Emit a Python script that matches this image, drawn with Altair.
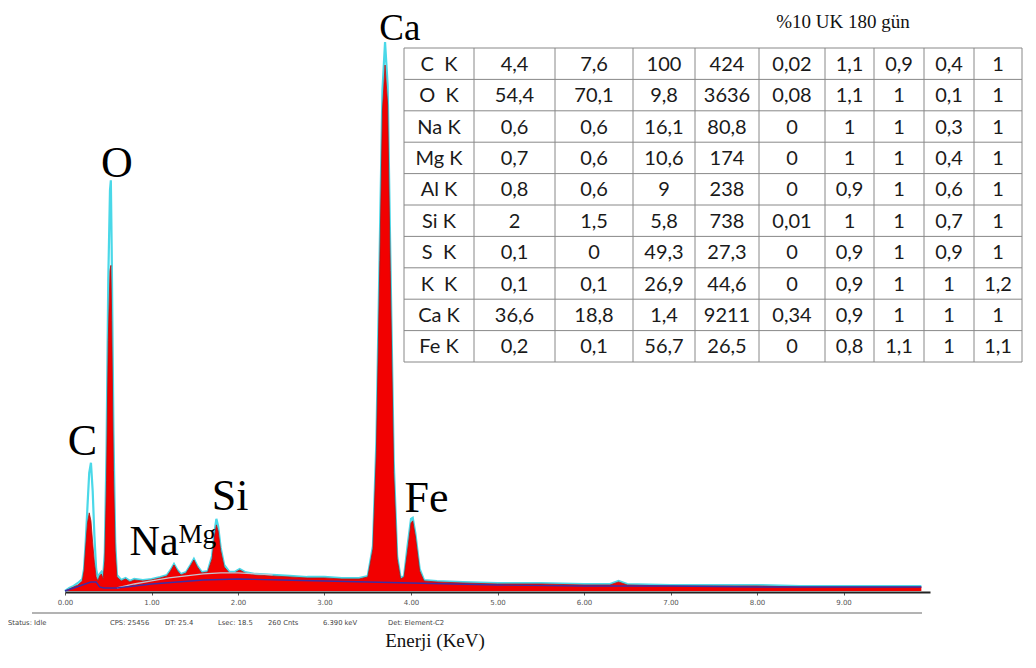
import altair as alt
import pandas as pd

# ---------------- spectrum data ----------------
energy_kev = [0.00, 0.05, 0.10, 0.15, 0.20, 0.22, 0.24, 0.26, 0.28, 0.30, 0.32, 0.34, 0.36, 0.38,
              0.40, 0.42, 0.44, 0.46, 0.48, 0.50, 0.52, 0.53, 0.54, 0.56, 0.58, 0.60, 0.65, 0.70,
              0.75, 0.80, 0.90, 1.00, 1.10, 1.18, 1.22, 1.26, 1.30, 1.34, 1.40, 1.45, 1.49, 1.53,
              1.58, 1.65, 1.70, 1.73, 1.75, 1.77, 1.80, 1.84, 1.90, 1.96, 2.02, 2.08, 2.20, 2.40,
              2.60, 2.80, 3.00, 3.20, 3.40, 3.50, 3.56, 3.60, 3.64, 3.67, 3.70, 3.73, 3.76, 3.80,
              3.84, 3.88, 3.92, 3.96, 4.00, 4.02, 4.05, 4.10, 4.15, 4.30, 4.60, 5.00, 5.50, 6.00,
              6.30, 6.40, 6.50, 7.00, 7.50, 8.00, 8.50, 9.00, 9.50, 9.90]
counts_red = [0, 2, 4, 6, 10, 20, 45, 68, 78, 70, 48, 28, 14, 10,
              15, 17, 12, 30, 110, 250, 320, 325, 270, 120, 40, 14, 10, 12,
              9, 11, 10, 11, 13, 15, 20, 26, 20, 16, 18, 25, 31, 24,
              18, 19, 32, 55, 66, 60, 40, 24, 18, 18, 21, 18, 16, 15,
              14, 13, 13, 12, 12, 14, 42, 140, 330, 480, 525, 485, 320, 118,
              32, 12, 14, 40, 68, 70, 55, 20, 10, 9, 8, 7, 7, 6,
              6, 9, 6, 5, 5, 5, 4, 4, 4, 4]
counts_cyan = [0, 3, 5, 8, 12, 22, 50, 85, 118, 128, 100, 55, 22, 13,
               17, 19, 14, 38, 140, 310, 400, 410, 340, 160, 50, 16, 11, 13,
               10, 12, 11, 12, 14, 16, 21, 27, 21, 17, 19, 26, 32, 25,
               19, 20, 35, 60, 72, 65, 43, 26, 19, 19, 22, 19, 17, 16,
               15, 14, 14, 13, 13, 15, 45, 150, 350, 500, 548, 505, 340, 130,
               35, 13, 15, 45, 72, 73, 58, 22, 11, 10, 9, 8, 8, 7,
               7, 10, 7, 6, 6, 6, 5, 5, 5, 5]

bg_energy = [0.00, 0.10, 0.20, 0.30, 0.36, 0.40, 0.45, 0.60, 0.80, 1.00, 1.30, 1.60, 2.00,
             2.50, 3.00, 3.50, 4.00, 4.50, 5.00, 6.00, 7.00, 8.00, 9.00, 9.90]
bg_counts = [0, 3, 6, 9, 9, 4, 3, 3, 5, 7, 9, 11, 12, 11, 10, 9, 8, 7, 6, 5, 5, 4, 4, 4]

fit_energy = [0.60, 0.80, 1.00, 1.20, 1.40, 1.60, 1.80, 2.00, 2.20, 2.40]
fit_counts = [3, 7, 10, 13, 15, 17, 18, 18, 17, 16]

peak_labels = ["C", "O", "Na", "Mg", "Si", "Ca", "Fe"]
label_energy = [0.20, 0.60, 1.03, 1.53, 1.91, 3.87, 4.18]
label_counts = [136, 413, 36, 48, 81, 550, 79]
label_sizes = [44, 44, 42, 27, 44, 37, 44]

tick_values = [0, 1, 2, 3, 4, 5, 6, 7, 8, 9]

status_items = ["Status: Idle", "CPS: 25456", "DT: 25.4", "Lsec: 18.5", "260 Cnts",
                "6.390 keV", "Det: Element-C2"]

title_text = "%10 UK 180 gün"
x_title = "Enerji (KeV)"

# ---------------- quantification table ----------------
elements = ["C\u00a0\u00a0K", "O\u00a0\u00a0K", "Na K", "Mg K", "Al K", "Si K", "S\u00a0\u00a0K",
            "K\u00a0\u00a0K", "Ca K", "Fe K"]
wt_pct = [4.4, 54.4, 0.6, 0.7, 0.8, 2, 0.1, 0.1, 36.6, 0.2]
at_pct = [7.6, 70.1, 0.6, 0.6, 0.6, 1.5, 0, 0.1, 18.8, 0.1]
error_pct = [100, 9.8, 16.1, 10.6, 9, 5.8, 49.3, 26.9, 1.4, 56.7]
net_int = [424, 3636, 80.8, 174, 238, 738, 27.3, 44.6, 9211, 26.5]
k_ratio = [0.02, 0.08, 0, 0, 0, 0.01, 0, 0, 0.34, 0]
z_corr = [1.1, 1.1, 1, 1, 0.9, 1, 0.9, 0.9, 0.9, 0.8]
r_corr = [0.9, 1, 1, 1, 1, 1, 1, 1, 1, 1.1]
a_corr = [0.4, 0.1, 0.3, 0.4, 0.6, 0.7, 0.9, 1, 1, 1]
f_corr = [1, 1, 1, 1, 1, 1, 1, 1.2, 1, 1.1]

# ---------------- layout (styles, not data) ----------------
W, H = 1018, 650
X_RANGE = [57, 922]
Y_RANGE = [583, 34]
AXIS_Y = 584
col_edges = [396, 466, 547, 625, 687, 751, 817, 866, 916, 966, 1014]
row_top, row_h, n_rows = 40, 31.4, 10
status_x = [0, 102, 157, 210, 260, 315, 380]
status_y = 615

SERIF = "Liberation Serif"


def fmt(v):
    return f"{v:g}".replace(".", ",")


spec = pd.DataFrame({"E": energy_kev, "red": counts_red, "cyan": counts_cyan})
bg = pd.DataFrame({"E": bg_energy, "c": bg_counts})
fit = pd.DataFrame({"E": fit_energy, "c": fit_counts})
labels = pd.DataFrame({"t": peak_labels, "E": label_energy, "c": label_counts, "fs": label_sizes})

xs = alt.Scale(domain=[0, 10], range=X_RANGE, nice=False, zero=False)
ys = alt.Scale(domain=[0, 548], range=Y_RANGE, nice=False, zero=False)

cyan_line = alt.Chart(spec).mark_line(color="#4ad8e8", strokeWidth=2.2).encode(
    x=alt.X("E:Q", scale=xs, axis=None),
    y=alt.Y("cyan:Q", scale=ys, axis=None),
)

red_area = alt.Chart(spec).mark_area(
    color="#f20000", opacity=1,
    line=alt.OverlayMarkDef(color="#a81414", strokeWidth=0.8),
).encode(
    x=alt.X("E:Q", scale=xs, axis=alt.Axis(
        values=tick_values, format=".2f", title=None, grid=False,
        offset=AXIS_Y - H, domainColor="#222222", domainWidth=2,
        tickColor="#555555", tickSize=3, tickWidth=1,
        labelColor="#555555", labelFontSize=7, labelFont="DejaVu Sans",
        labelPadding=3, labelFlush=False)),
    y=alt.Y("red:Q", scale=ys, axis=None),
)

fit_line = alt.Chart(fit).mark_line(color="#c4c4d0", strokeWidth=1.3).encode(
    x=alt.X("E:Q", scale=xs, axis=None),
    y=alt.Y("c:Q", scale=ys, axis=None),
)

bg_line = alt.Chart(bg).mark_line(color="#3b2ea6", strokeWidth=1.4).encode(
    x=alt.X("E:Q", scale=xs, axis=None),
    y=alt.Y("c:Q", scale=ys, axis=None),
)

peak_text = alt.Chart(labels).mark_text(
    font=SERIF, color="black", align="center", baseline="alphabetic"
).encode(
    x=alt.X("E:Q", scale=xs, axis=None),
    y=alt.Y("c:Q", scale=ys, axis=None),
    text="t:N",
    size=alt.Size("fs:Q", scale=None, legend=None),
)

# table cells
cells = []
columns = [elements, [fmt(v) for v in wt_pct], [fmt(v) for v in at_pct],
           [fmt(v) for v in error_pct], [fmt(v) for v in net_int], [fmt(v) for v in k_ratio],
           [fmt(v) for v in z_corr], [fmt(v) for v in r_corr], [fmt(v) for v in a_corr],
           [fmt(v) for v in f_corr]]
for ci, col in enumerate(columns):
    for ri, txt in enumerate(col):
        cells.append({"t": txt,
                      "px": (col_edges[ci] + col_edges[ci + 1]) / 2,
                      "py": row_top + (ri + 0.5) * row_h + 1})
cells = pd.DataFrame(cells)

table_text = alt.Chart(cells).mark_text(
    font="Lato", fontSize=20, color="#1a1a1a", align="center", baseline="middle"
).encode(
    x=alt.X("px:Q", scale=None, axis=None),
    y=alt.Y("py:Q", scale=None, axis=None),
    text="t:N",
)

grid = []
table_bottom = row_top + n_rows * row_h
for i in range(n_rows + 1):
    y = row_top + i * row_h
    grid.append({"x1": col_edges[0], "x2": col_edges[-1], "y1": y, "y2": y})
for x in col_edges:
    grid.append({"x1": x, "x2": x, "y1": row_top, "y2": table_bottom})
grid = pd.DataFrame(grid)

table_grid = alt.Chart(grid).mark_rule(color="#888888", strokeWidth=1).encode(
    x=alt.X("x1:Q", scale=None, axis=None),
    x2="x2:Q",
    y=alt.Y("y1:Q", scale=None, axis=None),
    y2="y2:Q",
)

# status bar and texts
sep_rule = alt.Chart(pd.DataFrame({"a": [0]})).mark_rule(color="#9a9a9a", strokeWidth=1.5).encode(
    x=alt.value(24), x2=alt.value(914), y=alt.value(605)
)

status_df = pd.DataFrame({"t": status_items, "px": status_x, "py": [status_y] * len(status_items)})
status_text = alt.Chart(status_df).mark_text(
    font="DejaVu Sans", fontSize=6.8, color="#444444", align="left", baseline="middle"
).encode(
    x=alt.X("px:Q", scale=None, axis=None),
    y=alt.Y("py:Q", scale=None, axis=None),
    text="t:N",
)

titles_df = pd.DataFrame({"t": [title_text, x_title], "px": [835, 427], "py": [20, 639],
                          "fs": [19, 19]})
title_marks = alt.Chart(titles_df).mark_text(
    font=SERIF, color="#111111", align="center", baseline="alphabetic"
).encode(
    x=alt.X("px:Q", scale=None, axis=None),
    y=alt.Y("py:Q", scale=None, axis=None),
    text="t:N",
    size=alt.Size("fs:Q", scale=None, legend=None),
)

chart = alt.layer(
    cyan_line, red_area, fit_line, bg_line, peak_text,
    table_grid, table_text, sep_rule, status_text, title_marks,
).resolve_scale(
    x="independent", y="independent", size="independent"
).properties(
    width=W, height=H, padding=0,
    autosize=alt.AutoSizeParams(type="none"),
    background="white",
).configure_view(stroke=None)

chart.save("out.html", embed_options={"renderer": "svg", "actions": False})
